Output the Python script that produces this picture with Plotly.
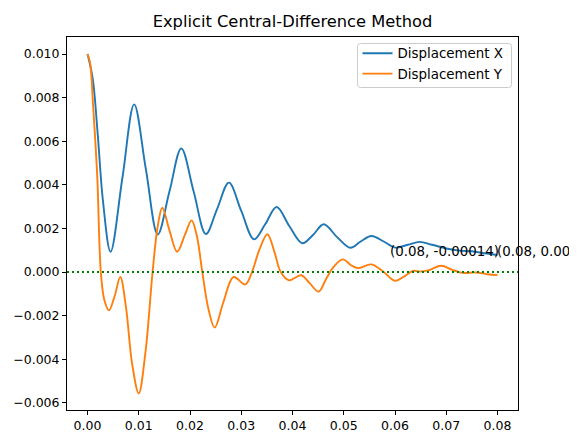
import plotly.graph_objects as go

# ---- data ----
t_x = [0.0, 0.0010, 0.0020, 0.0030, 0.0045, 0.0068, 0.0091, 0.0114, 0.0137, 0.0160,
       0.0183, 0.0207, 0.0231, 0.0253, 0.0276, 0.0300, 0.0325, 0.0347, 0.0369, 0.0394,
       0.0419, 0.0440, 0.0461, 0.0487, 0.0513, 0.0533, 0.0554, 0.0578, 0.0600, 0.0625,
       0.0648, 0.0672, 0.0700, 0.0725, 0.0750, 0.0775, 0.0800]
disp_x = [0.0100, 0.0089, 0.0063, 0.0033, 0.00093, 0.0043, 0.00769, 0.0047, 0.00172, 0.0037,
          0.00567, 0.0037, 0.00174, 0.0029, 0.0041, 0.0028, 0.0015, 0.0022, 0.00298, 0.0021,
          0.00132, 0.0017, 0.00219, 0.0016, 0.00111, 0.0014, 0.00165, 0.0014, 0.00112, 0.00125,
          0.00138, 0.00125, 0.00108, 0.00098, 0.00095, 0.00086, 0.00078]

t_y = [0.0, 0.0005, 0.0011, 0.0019, 0.0026, 0.0033, 0.0042, 0.0053, 0.0064, 0.0075,
       0.0087, 0.0100, 0.0113, 0.0127, 0.0137, 0.0146, 0.0160, 0.0175, 0.0190, 0.0203,
       0.0213, 0.0224, 0.0236, 0.0248, 0.0265, 0.0285, 0.0308, 0.0321, 0.0335, 0.0351,
       0.0365, 0.0377, 0.0393, 0.0417, 0.0433, 0.0451, 0.0466, 0.0479, 0.0498, 0.0515,
       0.0528, 0.0554, 0.0578, 0.0600, 0.0618, 0.0635, 0.0650, 0.0668, 0.0690, 0.0712,
       0.0732, 0.0758, 0.0780, 0.0800]
disp_y = [0.0100, 0.0096, 0.0076, 0.0044, 0.0000, -0.0013, -0.00176, -0.0011, -0.00023, -0.0016,
          -0.0042, -0.00557, -0.0037, 0.0000, 0.0021, 0.00295, 0.0019, 0.00093, 0.0017, 0.00237,
          0.0017, 0.0000, -0.0017, -0.00255, -0.0014, -0.00023, -0.00057, 0.0000, 0.0010, 0.00173,
          0.0009, 0.0000, -0.00038, -0.00015, -0.0005, -0.0009, -0.0003, 0.0002, 0.00058, 0.0003,
          0.00018, 0.00035, 0.0000, -0.0004, -0.0002, 0.00005, 0.00002, 0.0001, 0.00029, 0.0001,
          -0.00004, -0.00002, -0.0001, -0.00014]

x_ticks = [0.00, 0.01, 0.02, 0.03, 0.04, 0.05, 0.06, 0.07, 0.08]
y_ticks = [-0.006, -0.004, -0.002, 0.000, 0.002, 0.004, 0.006, 0.008, 0.010]

label_y_final = "(0.08, -0.00014)"
label_x_final = "(0.08, 0.00078)"

FONT = "DejaVu Sans"
OFF = 8  # default page body margin of the html page

W, H = 577 - OFF, 433 - OFF
PL, PR, PT, PB = 67, 518, 37, 410  # plot area in page pixels
PW, PH = PR - PL, PB - PT


def px_x(p):
    return (p - PL) / PW


def px_y(p):
    return (PB - p) / PH


fig = go.Figure()
fig.add_trace(go.Scatter(x=t_x, y=disp_x, mode="lines", name="Displacement X",
                         line=dict(color="#1f77b4", width=1.9, shape="spline", smoothing=1.0)))
fig.add_trace(go.Scatter(x=t_y, y=disp_y, mode="lines", name="Displacement Y",
                         line=dict(color="#ff7f0e", width=1.9, shape="spline", smoothing=1.0)))

fig.add_shape(type="line", xref="paper", x0=0, x1=1, yref="y", y0=0, y1=0,
              line=dict(color="#008000", width=1.9, dash="2px,3px"))

# legend frame (rounded, like the reference)
lx0, lx1, ly0, ly1 = px_x(357.5), px_x(511.5), px_y(87.5), px_y(43.5)
rx, ry = 3 / PW, 3 / PH
legend_path = (f"M {lx0 + rx} {ly1} L {lx1 - rx} {ly1} Q {lx1} {ly1} {lx1} {ly1 - ry} "
               f"L {lx1} {ly0 + ry} Q {lx1} {ly0} {lx1 - rx} {ly0} "
               f"L {lx0 + rx} {ly0} Q {lx0} {ly0} {lx0} {ly0 + ry} "
               f"L {lx0} {ly1 - ry} Q {lx0} {ly1} {lx0 + rx} {ly1} Z")
fig.add_shape(type="path", xref="paper", yref="paper", path=legend_path,
              fillcolor="rgba(255,255,255,0.8)", line=dict(color="#cccccc", width=1),
              layer="above")

fig.add_annotation(x=t_y[-1], y=disp_x[-1], text=label_y_final, showarrow=False,
                   xanchor="right", yanchor="bottom", yshift=-4, xshift=1,
                   borderpad=0, borderwidth=0,
                   font=dict(family=FONT, size=13.4, color="black"))
fig.add_annotation(x=t_x[-1], y=disp_x[-1], text=label_x_final, showarrow=False,
                   xanchor="left", yanchor="bottom", yshift=-4, xshift=-1,
                   borderpad=0, borderwidth=0,
                   font=dict(family=FONT, size=13.4, color="black"))

axis_common = dict(showgrid=False, zeroline=False, showline=True, linecolor="black",
                   linewidth=1, mirror=True, ticks="outside", ticklen=4, tickwidth=1,
                   tickcolor="black", tickfont=dict(family=FONT, size=12.5, color="black"))

fig.update_layout(
    width=W, height=H,
    margin=dict(l=PL - OFF, r=577 - PR, t=PT - OFF, b=433 - PB, autoexpand=False),
    paper_bgcolor="white", plot_bgcolor="white",
    font=dict(family=FONT, size=12.5, color="black"),
    title=dict(text="Explicit Central-Difference Method", x=0.5, xref="paper",
               y=1 - (21 - OFF) / H, yref="container", yanchor="middle", xanchor="center",
               font=dict(family=FONT, size=16.3, color="black")),
    xaxis=dict(range=[-0.004, 0.084], tickvals=x_ticks, tickformat=".2f", **axis_common),
    yaxis=dict(range=[-0.00633, 0.01078], tickvals=y_ticks, tickformat=".3f", **axis_common),
    legend=dict(x=px_x(357.5), y=px_y(38), xanchor="left", yanchor="top",
                bgcolor="rgba(0,0,0,0)", borderwidth=0,
                font=dict(family=FONT, size=13.4, color="black"), tracegroupgap=0),
    showlegend=True,
)

fig.write_html("out.html",
               post_script="document.documentElement.style.overflow='hidden';"
                           "document.body.style.overflow='hidden';")
